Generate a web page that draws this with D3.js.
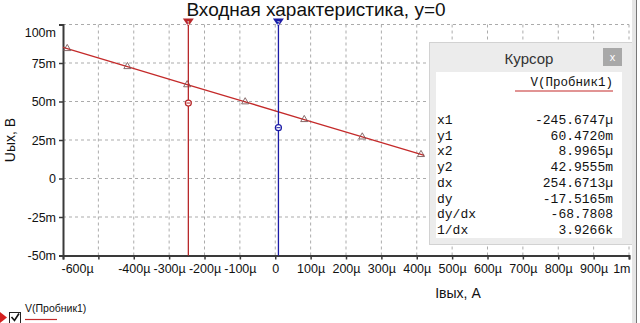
<!DOCTYPE html>
<html>
<head>
<meta charset="utf-8">
<script src="https://cdn.jsdelivr.net/npm/d3@7"></script>
<style>
  body { margin: 0; background: #fff; }
  svg { display: block; font-family: "Liberation Sans", Arial, sans-serif; }
</style>
</head>
<body>
<div id="chart"></div>
<script>
// data (A, V)
var currentA = [-600e-6, -588e-6, -418e-6, -249e-6, -85e-6, 82e-6, 246e-6, 412e-6, 421e-6];
var voltageV = [85.2e-3, 84.4e-3, 72.7e-3, 60.9e-3, 49.8e-3, 38.3e-3, 27.0e-3, 15.6e-3, 15.0e-3];
var markerIdx = [1, 2, 3, 4, 5, 6, 7];

var xTicks = [-600e-6, -500e-6, -400e-6, -300e-6, -200e-6, -100e-6, 0, 100e-6, 200e-6, 300e-6, 400e-6, 500e-6, 600e-6, 700e-6, 800e-6, 900e-6, 1e-3];
var xTickLabels = ["-600µ", "", "-400µ", "-300µ", "-200µ", "-100µ", "0", "100µ", "200µ", "300µ", "400µ", "500µ", "600µ", "700µ", "800µ", "900µ", "1m"];
var yTicks = [-50e-3, -25e-3, 0, 25e-3, 50e-3, 75e-3, 100e-3];
var yTickLabels = ["-50m", "-25m", "0", "25m", "50m", "75m", "100m"];

// cursors
var cursorX = [-245.6747e-6, 8.9965e-6];
var cursorDot = [49e-3, 33e-3];
var cursorNames = ["1", "2"];
var cursorColors = ["#b8282a", "#1c1ca6"];

var readLabels = ["x1", "y1", "x2", "y2", "dx", "dy", "dy/dx", "1/dx"];
var readValues = ["-245.6747µ", "60.4720m", "8.9965µ", "42.9555m", "254.6713µ", "-17.5165m", "-68.7808", "3.9266k"];

var W = 640, H = 323;
var margin = {top: 24.5, right: 11, bottom: 67.5, left: 63};

var svg = d3.select("#chart").append("svg")
    .attr("width", W).attr("height", H);

var x = d3.scaleLinear().domain([-600e-6, 1e-3]).range([margin.left, W - margin.right]);
var y = d3.scaleLinear().domain([-50e-3, 100e-3]).range([H - margin.bottom, margin.top]);

// grid
svg.append("g").selectAll("line.vg")
    .data(xTicks.slice(1))
    .enter().append("line")
    .attr("x1", d => x(d)).attr("x2", d => x(d))
    .attr("y1", y(100e-3)).attr("y2", y(-50e-3))
    .attr("stroke", "#ababab").attr("stroke-dasharray", "3,3");
svg.append("g").selectAll("line.hg")
    .data(yTicks.slice(1))
    .enter().append("line")
    .attr("x1", x(-600e-6)).attr("x2", x(1e-3))
    .attr("y1", d => y(d)).attr("y2", d => y(d))
    .attr("stroke", "#ababab").attr("stroke-dasharray", "3,3");

// axes
var xAxis = svg.append("g")
    .attr("transform", "translate(0," + y(-50e-3) + ")")
    .call(d3.axisBottom(x).tickValues(xTicks).tickSize(4).tickPadding(5)
        .tickFormat((d, i) => xTickLabels[i]));
xAxis.selectAll("text").style("font-size", "12.5px").attr("fill", "#111");
xAxis.selectAll("text").filter((d, i) => i == 0).attr("text-anchor", "start").attr("dx", "-2");
xAxis.selectAll("text").filter((d, i) => i == xTicks.length - 1).attr("text-anchor", "end").attr("dx", "1");

var yAxis = svg.append("g")
    .attr("transform", "translate(" + x(-600e-6) + ",0)")
    .call(d3.axisLeft(y).tickValues(yTicks).tickSize(4).tickPadding(3)
        .tickFormat((d, i) => yTickLabels[i]));
yAxis.selectAll("text").style("font-size", "12.5px").attr("fill", "#111");
yAxis.selectAll("text").filter((d, i) => i == yTicks.length - 1).attr("dy", "0.95em");

[xAxis, yAxis].forEach(function(a) {
    a.select(".domain").attr("stroke", "#3a3a3a").attr("stroke-width", 2);
    a.selectAll(".tick line").attr("stroke", "#3a3a3a").attr("stroke-width", 1.5);
});

// axis titles
svg.append("text")
    .attr("x", 316).attr("y", 16)
    .attr("text-anchor", "middle")
    .style("font-size", "19px").attr("fill", "#111")
    .text("Входная характеристика, y=0");
svg.append("text")
    .attr("x", 458).attr("y", 298)
    .attr("text-anchor", "middle")
    .style("font-size", "14px").attr("fill", "#111")
    .text("Iвых, A");
svg.append("text")
    .attr("transform", "translate(15,140) rotate(-90)")
    .attr("text-anchor", "middle")
    .style("font-size", "14px").attr("fill", "#111")
    .text("Uых, В");

// series line
var pts = currentA.map((d, i) => [d, voltageV[i]]);
svg.append("path")
    .datum(pts)
    .attr("fill", "none")
    .attr("stroke", "#c42a2a")
    .attr("stroke-width", 1.3)
    .attr("d", d3.line().x(d => x(d[0])).y(d => y(d[1])));

// triangle markers
svg.append("g").selectAll("path")
    .data(markerIdx)
    .enter().append("path")
    .attr("transform", i => "translate(" + x(currentA[i]) + "," + y(voltageV[i]) + ")")
    .attr("d", d3.symbol().type(d3.symbolTriangle).size(22))
    .attr("fill", "none")
    .attr("stroke", "#7a5a5a")
    .attr("stroke-width", 0.9);

// cursors
cursorX.forEach(function(cx, i) {
    var px = x(cx);
    svg.append("line")
        .attr("x1", px).attr("x2", px)
        .attr("y1", 19).attr("y2", y(-50e-3))
        .attr("stroke", cursorColors[i]).attr("stroke-width", 1.3);
    svg.append("path")
        .attr("d", "M" + (px - 5.5) + ",18.5 L" + (px + 5.5) + ",18.5 L" + px + ",26.5 Z")
        .attr("fill", cursorColors[i]);
    svg.append("text")
        .attr("x", px).attr("y", 24.5)
        .attr("text-anchor", "middle")
        .style("font-size", "5px").attr("fill", "#fff")
        .text(cursorNames[i]);
    svg.append("circle")
        .attr("cx", px).attr("cy", y(cursorDot[i]))
        .attr("r", 3)
        .attr("fill", "#fff").attr("stroke", cursorColors[i]).attr("stroke-width", 1.2);
    svg.append("line")
        .attr("x1", px - 2).attr("x2", px + 2)
        .attr("y1", y(cursorDot[i])).attr("y2", y(cursorDot[i]))
        .attr("stroke", cursorColors[i]).attr("stroke-width", 1);
});

// cursor panel
var panel = svg.append("g");
panel.append("rect")
    .attr("x", 429.5).attr("y", 42.5).attr("width", 203).attr("height", 202)
    .attr("fill", "#ececec").attr("stroke", "#d2d2d2");
panel.append("rect")
    .attr("x", 436).attr("y", 72).attr("width", 186).attr("height", 166)
    .attr("fill", "#fff");
panel.append("text")
    .attr("x", 529).attr("y", 64)
    .attr("text-anchor", "middle")
    .style("font-size", "15px").attr("fill", "#333")
    .text("Курсор");
panel.append("rect")
    .attr("x", 603).attr("y", 48).attr("width", 19).attr("height", 18)
    .attr("fill", "#a8a8a8");
panel.append("text")
    .attr("x", 612.5).attr("y", 61)
    .attr("text-anchor", "middle")
    .style("font-size", "11px").attr("fill", "#fff")
    .text("x");
panel.append("text")
    .attr("x", 613).attr("y", 86)
    .attr("text-anchor", "end")
    .style("font-family", "'Liberation Mono', 'Courier New', monospace")
    .style("font-size", "12.5px").attr("fill", "#111")
    .text("V(Пробник1)");
panel.append("line")
    .attr("x1", 515).attr("x2", 613).attr("y1", 91).attr("y2", 91)
    .attr("stroke", "#c42a2a").attr("stroke-width", 1.2);

var rows = panel.append("g").selectAll("g")
    .data(readLabels)
    .enter().append("g")
    .attr("transform", (d, i) => "translate(0," + (124 + i * 15.7) + ")")
    .style("font-family", "'Liberation Mono', 'Courier New', monospace")
    .style("font-size", "13px").attr("fill", "#111");
rows.append("text").attr("x", 437).text(d => d);
rows.append("text").attr("x", 613).attr("text-anchor", "end").text((d, i) => readValues[i]);

// window edge on the right
svg.append("rect").attr("x", 632).attr("y", 0).attr("width", 4).attr("height", H).attr("fill", "#e6e6e6");
svg.append("line").attr("x1", 636.5).attr("x2", 636.5).attr("y1", 0).attr("y2", H).attr("stroke", "#777");

// legend
var leg = svg.append("g");
leg.append("path").attr("d", "M0,312 L7,317.5 L0,323 Z").attr("fill", "#d42020");
leg.append("rect").attr("x", 9.5).attr("y", 312.5).attr("width", 11).attr("height", 11)
    .attr("fill", "#fff").attr("stroke", "#222");
leg.append("path").attr("d", "M11.5,317 L14.5,320.5 L19,313.5")
    .attr("fill", "none").attr("stroke", "#111").attr("stroke-width", 1.6);
leg.append("text").attr("x", 25).attr("y", 312)
    .style("font-size", "10.5px").attr("fill", "#111")
    .text("V(Пробник1)");
leg.append("line").attr("x1", 25).attr("x2", 57).attr("y1", 319.5).attr("y2", 319.5)
    .attr("stroke", "#c42a2a").attr("stroke-width", 1.2);
</script>
</body>
</html>
